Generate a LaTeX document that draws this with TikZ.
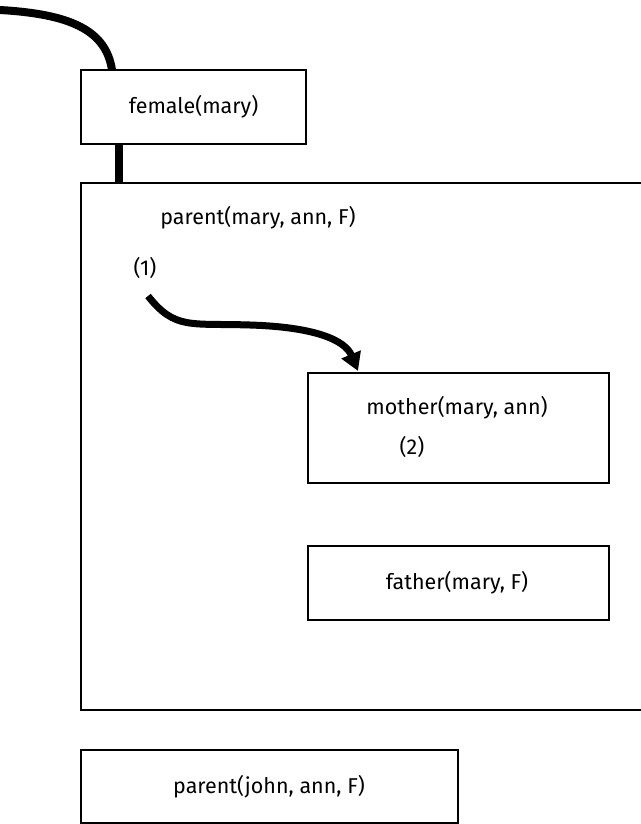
\documentclass[tikz,border=0pt]{standalone}
\usepackage{fontspec}
\setmainfont{Fira Sans}
\usetikzlibrary{arrows.meta}
\begin{document}
\begin{tikzpicture}[x=1pt,y=-1pt,
  box/.style={draw,line width=1.5pt,inner sep=0pt},
  lbl/.style={font=\fontsize{21.5}{24}\selectfont,inner sep=0pt},
  thick link/.style={line width=8pt}]
\useasboundingbox (0,0) rectangle (640,824);
% boxes
\draw[box] (81,70) rectangle (306,144);
\node[lbl] (female) at (193.5,107) {female(mary)};
\coordinate (femtop) at (112,70);
\coordinate (fembot) at (119,144);
\draw[box] (81,183) rectangle (650,710);
\coordinate (bigtop) at (119,183);
\node[lbl] (p1) at (258,218) {parent(mary, ann, F)};
\node[lbl] (n1) at (145,268) {(1)};
\draw[box] (308,373) rectangle (609,483);
\node[lbl] (mother) at (457,408) {mother(mary, ann)};
\node[lbl] (n2) at (412,447) {(2)};
\draw[box] (308,546) rectangle (609,620);
\node[lbl] (father) at (457,583) {father(mary, F)};
\draw[box] (81,750) rectangle (458,823);
\node[lbl] (john) at (269,787) {parent(john, ann, F)};
% connectors
\coordinate (start) at (0,10);
\draw[thick link] (start) .. controls (70,14) and (106,30) .. (femtop);
\draw[thick link] (fembot) -- (bigtop);
\coordinate (astart) at (148,296);
\coordinate (aend) at (358,371);
\draw[line width=7pt,-{Triangle[length=18pt,width=20pt]}] (astart) .. controls (175,330) and (190,323) .. (250,325) .. controls (315,327) and (345,340) .. (aend);
\end{tikzpicture}
\end{document}
